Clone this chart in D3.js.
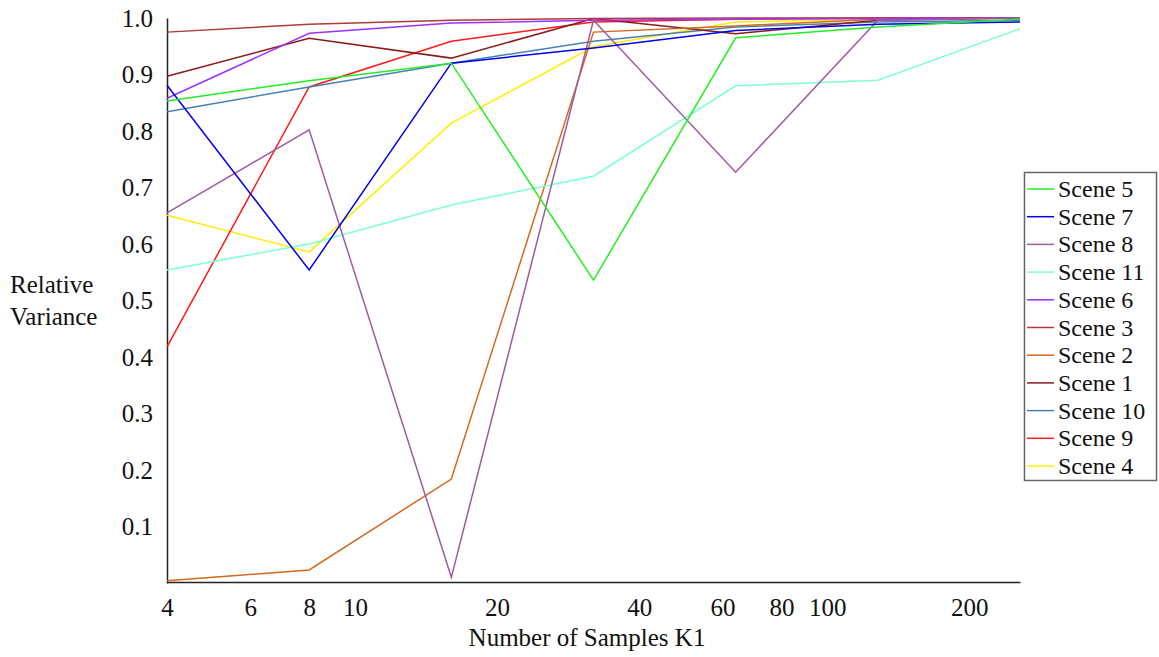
<!DOCTYPE html>
<html><head><meta charset="utf-8">
<script src="https://cdn.jsdelivr.net/npm/d3@7/dist/d3.min.js"></script>
<style>body{margin:0;background:#fff;} svg{display:block;} svg text{font-family:"Liberation Serif","Times New Roman",Times,Tinos,"DejaVu Serif","Noto Serif",serif !important;}</style>
</head><body>
<svg id="chart" width="1159" height="657"></svg>
<script>
const samples = [4, 8, 16, 32, 64, 128, 256];
const xTickValues = [4, 6, 8, 10, 20, 40, 60, 80, 100, 200];
const yTickValues = [0.1, 0.2, 0.3, 0.4, 0.5, 0.6, 0.7, 0.8, 0.9, 1.0];
const sceneNames = ["Scene 5","Scene 7","Scene 8","Scene 11","Scene 6","Scene 3","Scene 2","Scene 1","Scene 10","Scene 9","Scene 4"];
const sceneColors = ["#22ee22","#0000ee","#a05a9e","#7fffd4","#9b30ff","#b03a3a","#d2691e","#8b1a1a","#4682b4","#ff1a1a","#ffee00"];
const scene5  = [0.853, 0.889, 0.920, 0.536, 0.965, 0.984, 0.998];
const scene7  = [0.881, 0.554, 0.920, 0.947, 0.978, 0.989, 0.993];
const scene8  = [0.655, 0.802, 0.010, 0.996, 0.727, 0.996, 1.000];
const scene11 = [0.554, 0.600, 0.669, 0.720, 0.880, 0.890, 0.981];
const scene6  = [0.858, 0.973, 0.991, 0.996, 0.998, 0.999, 1.000];
const scene3  = [0.975, 0.989, 0.996, 0.999, 1.000, 1.000, 1.000];
const scene2  = [0.004, 0.023, 0.184, 0.975, 0.986, 0.998, 1.000];
const scene1  = [0.897, 0.964, 0.929, 0.999, 0.972, 0.996, 1.000];
const scene10 = [0.834, 0.878, 0.920, 0.959, 0.984, 0.993, 0.996];
const scene9  = [0.418, 0.878, 0.959, 0.993, 0.998, 1.000, 1.000];
const scene4  = [0.651, 0.586, 0.814, 0.949, 0.993, 0.998, 1.000];
const seriesValues = [scene5, scene7, scene8, scene11, scene6, scene3, scene2, scene1, scene10, scene9, scene4];

const svg = d3.select("#chart");
const x = d3.scaleLog().domain([4, 256]).range([167, 1020]);
const y = d3.scaleLinear().domain([0, 1]).range([583, 18]);

// axes
const xAxis = svg.append("g").attr("transform", "translate(0,582)")
  .call(d3.axisBottom(x).tickValues(xTickValues).tickFormat(d3.format("d")).tickSize(0).tickPadding(16));
xAxis.attr("font-family", null);
xAxis.select(".domain").attr("stroke", "#222").attr("stroke-width", 1.5);
xAxis.selectAll("text").attr("font-size", 25).attr("fill", "#111");

const yAxis = svg.append("g").attr("transform", "translate(167,0)")
  .call(d3.axisLeft(y).tickValues(yTickValues).tickFormat(d3.format(".1f")).tickSize(0).tickPadding(14));
yAxis.attr("font-family", null);
yAxis.select(".domain").attr("stroke", "#222").attr("stroke-width", 1.5);
yAxis.selectAll("text").attr("font-size", 25).attr("fill", "#111");

// lines (draw in reverse so first legend entry sits on top)
const line = d3.line().x((d, i) => x(samples[i])).y(d => y(d));
const order = d3.range(seriesValues.length).reverse();
svg.append("g").selectAll("path").data(order).join("path")
  .attr("d", i => line(seriesValues[i]))
  .attr("fill", "none")
  .attr("stroke", i => sceneColors[i])
  .attr("stroke-width", 1.5);

// axis titles
svg.append("text").attr("x", 587).attr("y", 646).attr("text-anchor", "middle")
  .attr("font-size", 25).attr("fill", "#111").text("Number of Samples K1");
svg.append("text").attr("x", 10).attr("y", 293).attr("font-size", 25).attr("fill", "#111").text("Relative");
svg.append("text").attr("x", 10).attr("y", 325).attr("font-size", 25).attr("fill", "#111").text("Variance");

// legend
const lg = svg.append("g");
lg.append("rect").attr("x", 1024.5).attr("y", 172.5).attr("width", 132).attr("height", 308)
  .attr("fill", "#fff").attr("stroke", "#666").attr("stroke-width", 1.5);
const items = lg.selectAll("g.item").data(sceneNames).join("g").attr("class", "item")
  .attr("transform", (d, i) => `translate(0,${189 + i * 27.7})`);
items.append("line").attr("x1", 1027).attr("x2", 1054).attr("y1", 0).attr("y2", 0)
  .attr("stroke", (d, i) => sceneColors[i]).attr("stroke-width", 1.5);
items.append("text").attr("x", 1058).attr("y", 8).attr("font-size", 24).attr("fill", "#111").text(d => d);
</script>
</body></html>
